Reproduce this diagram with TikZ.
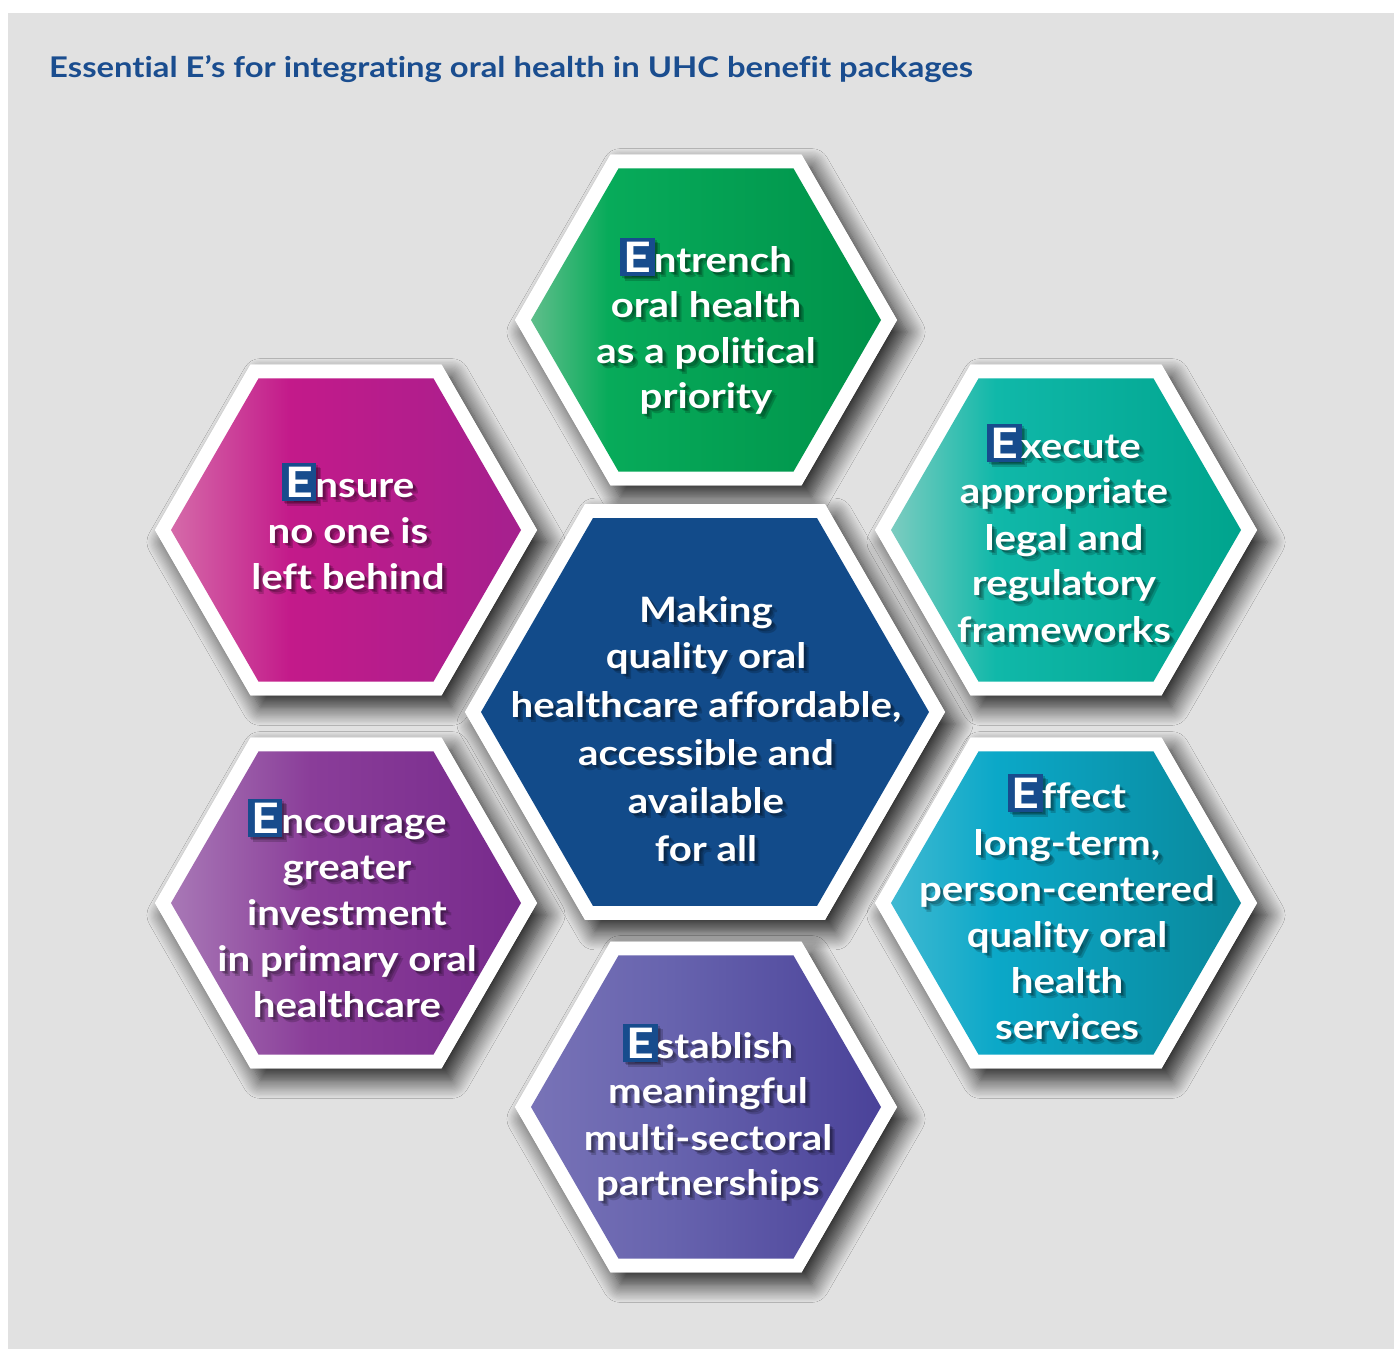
\documentclass[tikz,border=0pt]{standalone}
\usepackage{fontspec}
\setmainfont{Lato}[FakeStretch=1.15, Ligatures=NoCommon]
\usetikzlibrary{shadows.blur}

\definecolor{bggray}{HTML}{E1E1E1}
\definecolor{titleblue}{HTML}{1A4D8F}
\definecolor{eblue}{HTML}{174C8D}
\definecolor{centerblue}{HTML}{124B8A}
% green
\definecolor{gL}{HTML}{5FBE8B}\definecolor{gM}{HTML}{07AB5A}\definecolor{gR}{HTML}{00924A}
% teal
\definecolor{tL}{HTML}{7CCCC0}\definecolor{tM}{HTML}{10B8A9}\definecolor{tR}{HTML}{00A48D}
% magenta
\definecolor{mL}{HTML}{D56AA9}\definecolor{mM}{HTML}{C31A8A}\definecolor{mR}{HTML}{A5208E}
% purple
\definecolor{pL}{HTML}{A878B6}\definecolor{pM}{HTML}{8A3D99}\definecolor{pR}{HTML}{772A8C}
% cyan
\definecolor{cL}{HTML}{40B9D2}\definecolor{cM}{HTML}{0BA8C8}\definecolor{cR}{HTML}{0A889B}
% violet
\definecolor{vL}{HTML}{7873B7}\definecolor{vM}{HTML}{6763AE}\definecolor{vR}{HTML}{4A4299}

\pgfdeclarehorizontalshading{shGreen}{100bp}{color(0bp)=(gL); color(25bp)=(gL); color(36bp)=(gM); color(75bp)=(gR); color(100bp)=(gR)}
\pgfdeclarehorizontalshading{shTeal}{100bp}{color(0bp)=(tL); color(25bp)=(tL); color(40bp)=(tM); color(75bp)=(tR); color(100bp)=(tR)}
\pgfdeclarehorizontalshading{shMag}{100bp}{color(0bp)=(mL); color(25bp)=(mL); color(42bp)=(mM); color(75bp)=(mR); color(100bp)=(mR)}
\pgfdeclarehorizontalshading{shPur}{100bp}{color(0bp)=(pL); color(25bp)=(pL); color(45bp)=(pM); color(75bp)=(pR); color(100bp)=(pR)}
\pgfdeclarehorizontalshading{shCyan}{100bp}{color(0bp)=(cL); color(25bp)=(cL); color(40bp)=(cM); color(75bp)=(cR); color(100bp)=(cR)}
\pgfdeclarehorizontalshading{shVio}{100bp}{color(0bp)=(vL); color(25bp)=(vL); color(45bp)=(vM); color(75bp)=(vR); color(100bp)=(vR)}

\newif\ifshadowmode
\newcommand\ebox{{\setlength{\fboxsep}{3.5pt}\ifshadowmode\colorbox{black}{\fontsize{42}{42}\selectfont E}\else\colorbox{eblue}{\fontsize{42}{42}\selectfont\color{white}E}\fi}\kern-1pt}

\tikzset{
  hexpath/.style n args={3}{insert path={(#1+#3,#2) -- (#1+0.5*#3,#2+0.866*#3) -- (#1-0.5*#3,#2+0.866*#3) -- (#1-#3,#2) -- (#1-0.5*#3,#2-0.866*#3) -- (#1+0.5*#3,#2-0.866*#3) -- cycle}},
  hexshadow/.style={fill=white, blur shadow={shadow xshift=10pt, shadow yshift=-12pt, shadow blur radius=18pt, shadow opacity=85, shadow blur steps=16}},
  txt/.style={anchor=base, text=white, font=\fontsize{35}{42}\selectfont\bfseries, inner sep=0pt},
  txtsh/.style={txt, text=black, text opacity=0.18, execute at begin node=\shadowmodetrue},
}

\newcommand\hl[4]{%
  \foreach \dx/\dy in {2/2,3.5/3.5,5/5}{\node[txtsh] at (#2+\dx,#3+\dy) {#4};}
  \node[txt] (#1) at (#2,#3) {#4};%
}

\begin{document}
\begin{tikzpicture}[x=1pt,y=-1pt]
\useasboundingbox (0,0) rectangle (1394,1349);
\fill[white] (0,0) rectangle (1394,1349);
\fill[bggray] (8,13) rectangle (1394,1349);

\node[anchor=base west, text=titleblue, font=\fontsize{28.5}{34}\selectfont\bfseries, inner sep=0pt] (title) at (49,77) {Essential E’s for integrating oral health in UHC benefit packages};

% pass 1: shadows
\foreach \cx/\cy/\r in {706/320/191, 346/530/191, 1066/530/191, 346/903/191, 1066/903/191, 706/1107/191, 705/712/240}{
  \path[hexshadow, hexpath={\cx}{\cy}{\r}];
}
% pass 2: white frames
\foreach \cx/\cy/\r in {706/320/191, 346/530/191, 1066/530/191, 346/903/191, 1066/903/191, 706/1107/191, 705/712/240}{
  \fill[white, hexpath={\cx}{\cy}{\r}];
}
% inner coloured hexagons
\shade[shading=shGreen, hexpath={706}{320}{175}];
\shade[shading=shMag,   hexpath={346}{530}{175}];
\shade[shading=shTeal,  hexpath={1066}{530}{175}];
\shade[shading=shPur,   hexpath={346}{903}{175}];
\shade[shading=shCyan,  hexpath={1066}{903}{175}];
\shade[shading=shVio,   hexpath={706}{1107}{175}];
\fill[centerblue, hexpath={705}{712}{224}];

% texts: top
\hl{t1}{706}{272}{\ebox ntrench}
\hl{t2}{706}{317}{oral health}
\hl{t3}{706}{363}{as a political}
\hl{t4}{706}{408}{priority}
% ensure
\hl{e1}{348}{497}{\ebox nsure}
\hl{e2}{348}{543}{no one is}
\hl{e3}{348}{589}{left behind}
% execute
\hl{x1}{1064}{458}{\ebox xecute}
\hl{x2}{1064}{503}{appropriate}
\hl{x3}{1064}{550}{legal and}
\hl{x4}{1064}{595}{regulatory}
\hl{x5}{1064}{642}{frameworks}
% centre
\hl{c1}{706}{622}{Making}
\hl{c2}{706}{668}{quality oral}
\hl{c3}{706}{717}{healthcare affordable,}
\hl{c4}{706}{765}{accessible and}
\hl{c5}{706}{813}{available}
\hl{c6}{706}{861}{for all}
% encourage
\hl{n1}{347}{833}{\ebox ncourage}
\hl{n2}{347}{879}{greater}
\hl{n3}{347}{925}{investment}
\hl{n4}{347}{971}{in primary oral}
\hl{n5}{347}{1017}{healthcare}
% effect
\hl{f1}{1067}{808}{\ebox ffect}
\hl{f2}{1067}{855}{long-term,}
\hl{f3}{1067}{901}{person-centered}
\hl{f4}{1067}{947}{quality oral}
\hl{f5}{1067}{993}{health}
\hl{f6}{1067}{1039}{services}
% establish
\hl{s1}{708}{1058}{\ebox stablish}
\hl{s2}{708}{1103}{meaningful}
\hl{s3}{708}{1150}{multi-sectoral}
\hl{s4}{708}{1195}{partnerships}
\end{tikzpicture}
\end{document}
